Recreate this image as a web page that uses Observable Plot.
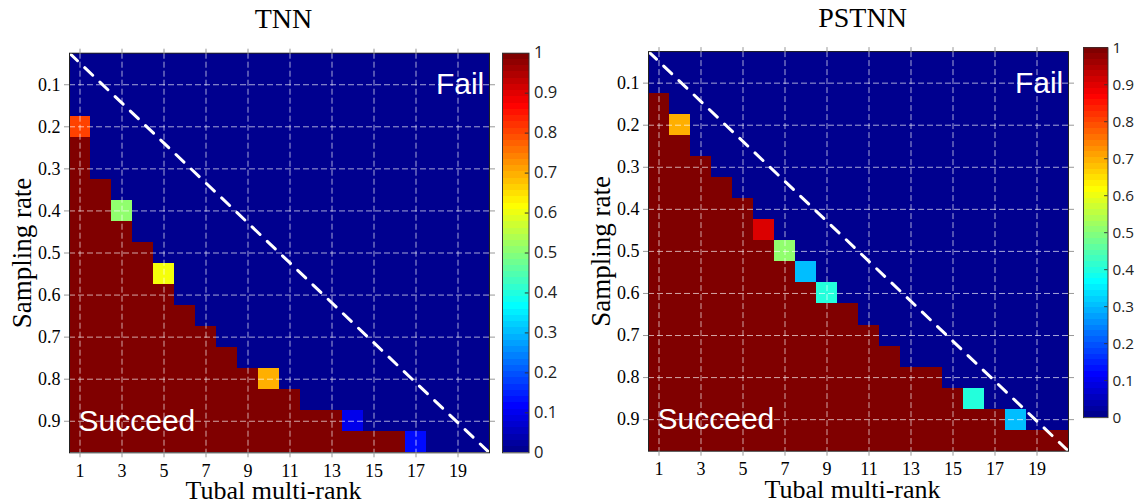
<!DOCTYPE html>
<html>
<head>
<meta charset="utf-8">
<script src="https://cdn.jsdelivr.net/npm/d3@7"></script>
<script src="https://cdn.jsdelivr.net/npm/@observablehq/plot@0.6"></script>
<style>
  html, body { margin: 0; padding: 0; background: #fff; }
  #wrap { position: relative; width: 1141px; height: 504px; overflow: hidden; }
  .pane { position: absolute; top: 0; }
  .pane svg { display: block; overflow: visible; }
</style>
</head>
<body>
<div id="wrap"></div>
<script>
// ---------- data ----------
const ranks = [1,2,3,4,5,6,7,8,9,10,11,12,13,14,15,16,17,18,19,20];
const rates = [0.05,0.10,0.15,0.20,0.25,0.30,0.35,0.40,0.45,0.50,0.55,0.60,0.65,0.70,0.75,0.80,0.85,0.90,0.95];
const xTicks = [1,3,5,7,9,11,13,15,17,19];
const yTicks = [0.1,0.2,0.3,0.4,0.5,0.6,0.7,0.8,0.9];
const cbTicks = [0,0.1,0.2,0.3,0.4,0.5,0.6,0.7,0.8,0.9,1];

// TNN: first sampling rate (per rank) from which recovery succeeds (value 1); null = never
const tnnStart = [0.25,0.35,0.45,0.50,0.60,0.65,0.70,0.75,0.80,0.85,0.85,0.90,0.90,0.95,0.95,0.95,null,null,null,null];
// TNN: partial-success cells
const tnnPartRank  = [1,3,5,10,14,17];
const tnnPartRate  = [0.20,0.40,0.55,0.80,0.90,0.95];
const tnnPartValue = [0.81,0.51,0.61,0.70,0.09,0.12];

// PSTNN
const pstStart = [0.15,0.25,0.30,0.35,0.40,0.50,0.55,0.60,0.65,0.65,0.70,0.75,0.80,0.80,0.85,0.90,0.90,0.95,0.95,0.95];
const pstPartRank  = [2,6,7,8,9,16,18];
const pstPartRate  = [0.20,0.45,0.50,0.55,0.60,0.85,0.90];
const pstPartValue = [0.70,0.91,0.51,0.30,0.40,0.40,0.30];

// dashed diagonal (phase-transition guide)
const diagRank = [0.5, 20.5];
const diagRate = [0.025, 0.975];

// jet colormap
const jetStops  = [0, 0.11, 0.365, 0.62, 0.875, 1];
const jetColors = ["#00008f", "#0000ff", "#00ffff", "#ffff00", "#ff0000", "#800000"];

// ---------- build ----------
function buildGrid(start, pRank, pRate, pVal) {
  const out = [];
  for (const r of ranks) {
    for (const s of rates) {
      const j = pRank.findIndex((k, i) => k === r && Math.abs(pRate[i] - s) < 1e-9);
      const st = start[r - 1];
      let v;
      if (j >= 0) v = pVal[j];
      else v = (st != null && s >= st - 1e-9) ? 1 : 0;
      out.push({rank: r, rate: s, value: v});
    }
  }
  return out;
}

const colorScale = {type: "linear", domain: jetStops, range: jetColors, clamp: true};
const serif = "Liberation Serif";
const sans = "Liberation Sans";

function panel(title, grid, top, bottom) {
  const diag = diagRank.map((r, i) => ({r, s: diagRate[i]}));
  return Plot.plot({
    width: 500, height: 504,
    marginLeft: 69, marginRight: 11, marginTop: top, marginBottom: 504 - bottom,
    x: {domain: [0.5, 20.5], label: null},
    y: {domain: [0.025, 0.975], reverse: true, label: null},
    color: colorScale,
    style: {fontFamily: serif, fontSize: "18px", background: "transparent", color: "black"},
    marks: [
      Plot.rect(grid, {
        x1: d => d.rank - 0.5, x2: d => d.rank + 0.5,
        y1: d => d.rate - 0.025, y2: d => d.rate + 0.025,
        fill: "value", shapeRendering: "crispEdges"
      }),
      Plot.ruleX(xTicks, {stroke: "white", strokeOpacity: 0.65, strokeDasharray: "6,3"}),
      Plot.ruleY(yTicks, {stroke: "white", strokeOpacity: 0.65, strokeDasharray: "6,3"}),
      Plot.line(diag, {x: "r", y: "s", stroke: "white", strokeWidth: 3, strokeDasharray: "11,10"}),
      Plot.text([{t: "Fail", r: 20.25, s: 0.1}], {x: "r", y: "s", text: "t", textAnchor: "end",
        fill: "white", fontSize: 30, fontFamily: sans}),
      Plot.text([{t: "Succeed", r: 0.93, s: 0.9}], {x: "r", y: "s", text: "t", textAnchor: "start",
        fill: "white", fontSize: 30, fontFamily: sans}),
      Plot.frame({stroke: "#222"}),
      Plot.axisX(xTicks, {anchor: "bottom", tickSize: 5, tickPadding: 6, stroke: "#999", fill: "black",
        fontSize: 18, fontFamily: serif, label: null}),
      Plot.axisX(xTicks, {anchor: "top", tickSize: 5, tickFormat: () => "", stroke: "#999", label: null}),
      Plot.axisY(yTicks, {anchor: "left", tickSize: 5, tickPadding: 4, stroke: "#999", fill: "black",
        fontSize: 18, fontFamily: serif, tickFormat: d => d.toFixed(1), label: null}),
      Plot.axisY(yTicks, {anchor: "right", tickSize: 5, tickFormat: () => "", stroke: "#999", label: null}),
      Plot.text([{t: "Sampling rate", r: 0.5, s: 0.5}], {x: "r", y: "s", text: "t", dx: -47, rotate: -90,
        textAnchor: "middle", fontSize: 27, fontFamily: serif, fill: "black"}),
      Plot.text([{t: "Tubal multi-rank", r: 10.5, s: 0.975}], {x: "r", y: "s", text: "t", dy: 38, dx: -6,
        fontSize: 26, fontFamily: serif, fill: "black"}),
      Plot.text([{t: title, r: 10.5, s: 0.025}], {x: "r", y: "s", text: "t", dy: -34, dx: 4,
        fontSize: 28, fontFamily: serif, fill: "black"})
    ]
  });
}

function colorbar(top, bottom) {
  const bands = d3.range(64).map(i => ({lo: i / 64, hi: (i + 1) / 64, v: i / 63}));
  return Plot.plot({
    width: 63, height: 504,
    marginLeft: 0, marginRight: 36.5, marginTop: top, marginBottom: 504 - bottom,
    x: {domain: [0, 1], axis: null},
    y: {domain: [0, 1], axis: null},
    color: colorScale,
    style: {fontFamily: "Open Sans", fontSize: "16.5px", background: "transparent", color: "black"},
    marks: [
      Plot.rect(bands, {x1: () => 0, x2: () => 1, y1: "lo", y2: "hi", fill: "v", shapeRendering: "crispEdges"}),
      Plot.ruleY(cbTicks.slice(1, -1), {x1: () => 0.86, x2: () => 1, stroke: "#333"}),
      Plot.frame({stroke: "#333"}),
      Plot.axisY(cbTicks, {anchor: "right", tickSize: 0, tickPadding: 5, fontSize: 16.5,
        fontFamily: "Open Sans", fill: "#222",
        tickFormat: d => (d === 0 || d === 1) ? String(d) : d.toFixed(1), label: null})
    ]
  });
}

function place(node, left) {
  const d = document.createElement("div");
  d.className = "pane";
  d.style.left = left + "px";
  d.appendChild(node);
  document.getElementById("wrap").appendChild(d);
}

const tnnGrid = buildGrid(tnnStart, tnnPartRank, tnnPartRate, tnnPartValue);
const pstGrid = buildGrid(pstStart, pstPartRank, pstPartRate, pstPartValue);

place(panel("TNN", tnnGrid, 52.7, 452.3), 0);
place(colorbar(52.7, 452.3), 501.7);
place(panel("PSTNN", pstGrid, 51.1, 450.7), 579);
place(colorbar(51.1, 450.7), 1082.7);
</script>
</body>
</html>
